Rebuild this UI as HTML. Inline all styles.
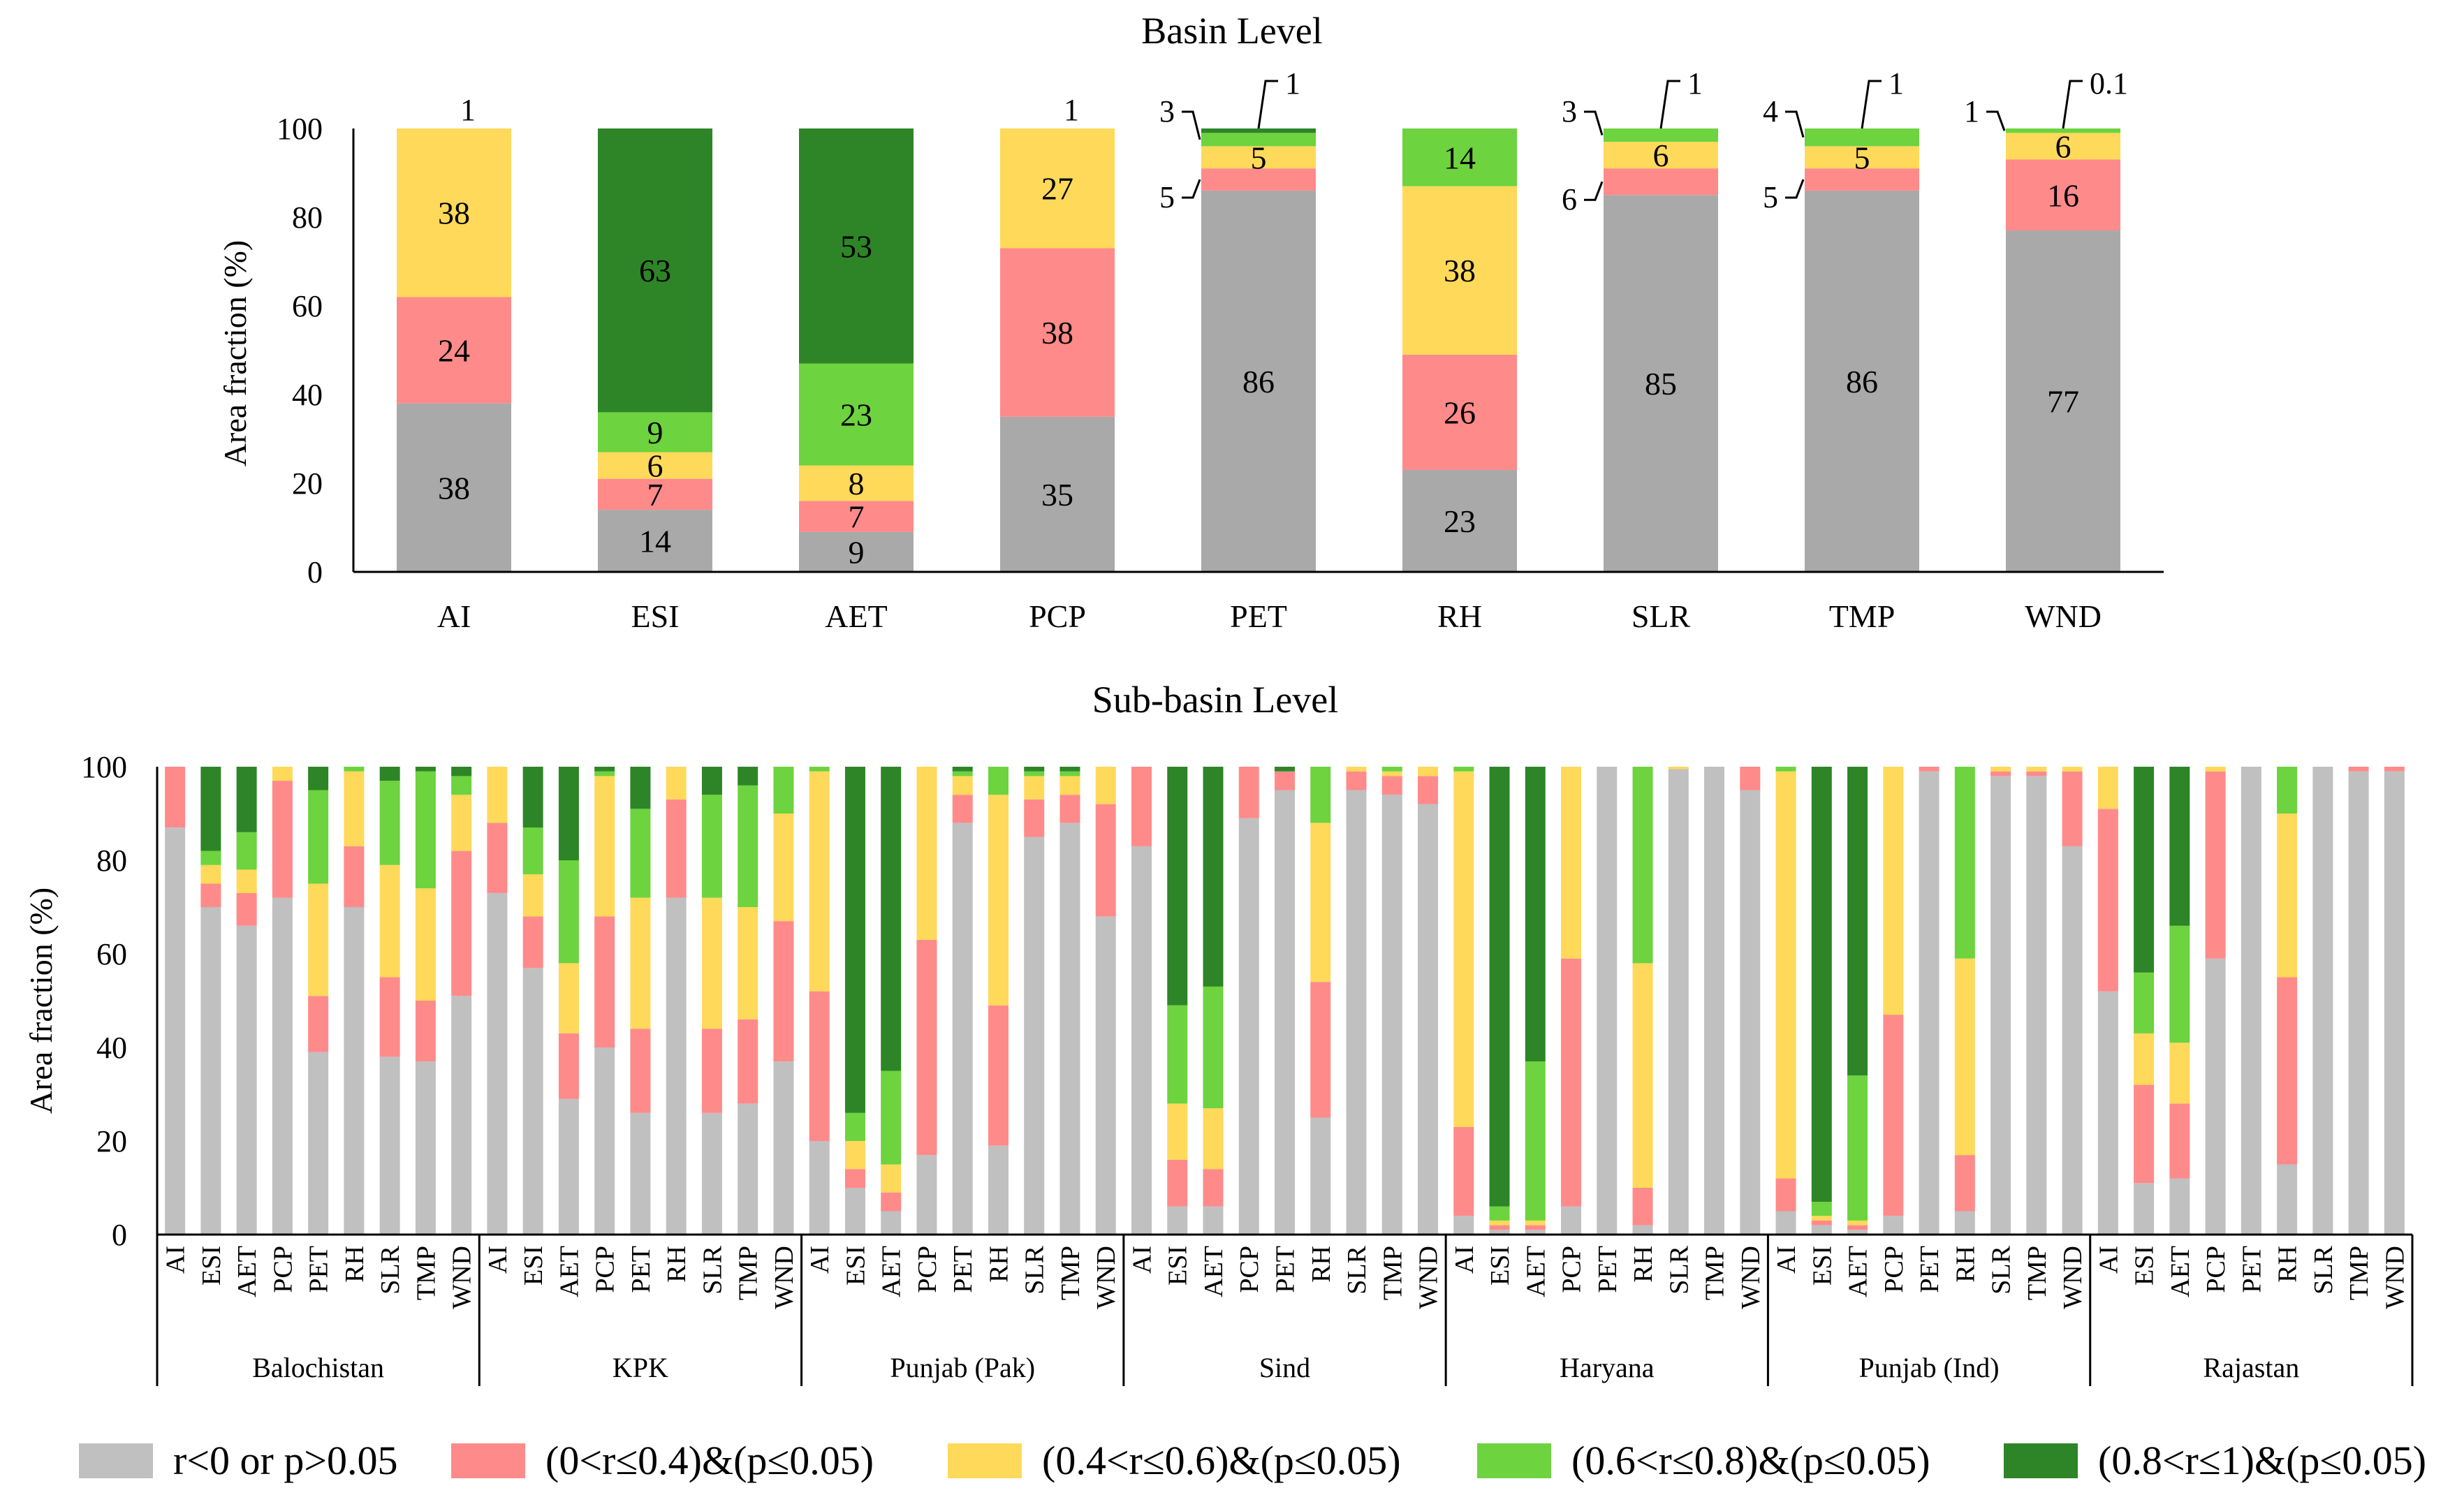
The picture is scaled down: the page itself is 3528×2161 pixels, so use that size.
<!DOCTYPE html>
<html><head><meta charset="utf-8"><style>
html,body{margin:0;padding:0;background:#fff;}
svg{display:block;font-family:"Liberation Serif",serif;}
</style></head><body>
<svg id="chart" width="3528" height="2161" viewBox="0 0 3528 2161" xmlns="http://www.w3.org/2000/svg"></svg>
<script>
const colors=["#a9a9a9","#ff8a8a","#ffd95a","#6dd33e","#2e8527"];
const colorsB=["#c0c0c0","#ff8a8a","#ffd95a","#6dd33e","#2e8527"];
const topCats=["AI","ESI","AET","PCP","PET","RH","SLR","TMP","WND"];
const topGray=[38,14,9,35,86,23,85,86,77];
const topRed=[24,7,7,38,5,26,6,5,16];
const topYellow=[38,6,8,27,5,38,6,5,6];
const topLGreen=[1,9,23,1,3,14,3,4,1];
const topDGreen=[0,64,53,0,1,0,1,1,0.1];
const topLabelModes=[
 ["in","in","in","top",""],
 ["in","in","in","in","in"],
 ["in","in","in","in","in"],
 ["in","in","in","top",""],
 ["in","left","in","left","right"],
 ["in","in","in","in",""],
 ["in","left","in","left","right"],
 ["in","left","in","left","right"],
 ["in","in","in","left","right"]];
const topLabelText=[
 ["38","24","38","1",""],["14","7","6","9","63"],["9","7","8","23","53"],["35","38","27","1",""],
 ["86","5","5","3","1"],["23","26","38","14",""],["85","6","6","3","1"],["86","5","5","4","1"],["77","16","6","1","0.1"]];
const yTicks=[0,20,40,60,80,100];
const groups=["Balochistan","KPK","Punjab (Pak)","Sind","Haryana","Punjab (Ind)","Rajastan"];
const subCats=["AI","ESI","AET","PCP","PET","RH","SLR","TMP","WND"];
const subGray=[87,70,66,72,39,70,38,37,51, 73,57,29,40,26,72,26,28,37, 20,10,5,17,88,19,85,88,68, 83,6,6,89,95,25,95,94,92, 4,1,1,6,100,2,99.5,100,95, 5,2,1,4,99,5,98,98,83, 52,11,12,59,100,15,100,99,99];
const subRed=[13,5,7,25,12,13,17,13,31, 15,11,14,28,18,21,18,18,30, 32,4,4,46,6,30,8,6,24, 17,10,8,11,4,29,4,4,6, 19,1,1,53,0,8,0,0,5, 7,1,1,43,1,12,1,1,16, 39,21,16,40,0,40,0,1,1];
const subYellow=[0,4,5,3,24,16,24,24,12, 12,9,15,30,28,7,28,24,23, 47,6,6,37,4,45,5,4,8, 0,12,13,0,0,34,1,1,2, 76,1,1,41,0,48,0.5,0,0, 87,1,1,53,0,42,1,1,1, 9,11,13,1,0,35,0,0,0];
const subLGreen=[0,3,8,0,20,1,18,25,4, 0,10,22,1,19,0,22,26,10, 1,6,20,0,1,6,1,1,0, 0,21,26,0,0,13,0,1,0, 1,3,34,0,0,42,0,0,0, 1,3,31,0,0,41,0,0.5,0, 0,13,25,0,0,10,0,0,0];
const subDGreen=[0,18,14,0,5,0,3,1,2, 0,13,20,1,9,0,6,4,0, 0,74,65,0,1,0,1,1,0, 0,51,47,0,1,0,0,0,0, 0,94,63,0,0,0,0,0,0, 0,93,66,0,0,0,0,0,0, 0,44,34,0,0,0,0,0,0];
const legendText=["r<0 or p>0.05","(0<r\u22640.4)&(p\u22640.05)","(0.4<r\u22640.6)&(p\u22640.05)","(0.6<r\u22640.8)&(p\u22640.05)","(0.8<r\u22641)&(p\u22640.05)"];

const NS="http://www.w3.org/2000/svg";
const svg=document.getElementById('chart');
function mk(tag,attrs,parent){const e=document.createElementNS(NS,tag);for(const k in attrs)e.setAttribute(k,attrs[k]);(parent||svg).appendChild(e);return e;}

// ---------- Top chart ----------
const T={x0:506,x1:3098,y0:819,y1:184,slot:288,bw:164,first:650};
const ty=v=>T.y0-(v/100)*(T.y0-T.y1);
const tx=i=>T.first+i*T.slot;
let t=mk('text',{x:1764,y:62,'font-size':54,'text-anchor':'middle'});
t.textContent='Basin Level';
t=mk('text',{x:0,y:0,'font-size':46,'text-anchor':'middle',transform:'translate(352,506) rotate(-90)'});
t.textContent='Area fraction  (%)';
yTicks.forEach(v=>{const e=mk('text',{x:462,y:ty(v)+15,'font-size':44,'text-anchor':'end'});
 e.textContent=v;});
const topSeries=[topGray,topRed,topYellow,topLGreen,topDGreen];
topCats.forEach((c,i)=>{
 let cum=0;const cx=tx(i),L=cx-T.bw/2;
 topSeries.forEach((s,k)=>{
  const v=s[i];if(v<=0){return;}
  const a=Math.min(cum,100),b=Math.min(cum+v,100);cum+=v;
  const r=mk('rect',{x:L,y:ty(b),width:T.bw,height:ty(a)-ty(b),fill:colors[k]});
  
  const mode=topLabelModes[i][k],txt=topLabelText[i][k],mid=(ty(a)+ty(b))/2;
  if(mode==='in'){const e=mk('text',{x:cx,y:mid+16,'font-size':46,'text-anchor':'middle'});
   e.textContent=txt;}
  else if(mode==='top'){const e=mk('text',{x:cx+20,y:ty(100)-12,'font-size':44,'text-anchor':'middle'});
   e.textContent=txt;}
  else if(mode==='left'){const up=k>=3;const ly=up?ty(100)-10:mid+40;
   const p=mk('path',{d:`M${L-28} ${ly-14} L${L-12} ${ly-14} L${L-2} ${mid}`,stroke:'#000','stroke-width':3,fill:'none'});
   
   const e=mk('text',{x:L-38,y:ly,'font-size':44,'text-anchor':'end'});
   e.textContent=txt;}
  else if(mode==='right'){const ly=ty(100)-50;
   const p=mk('path',{d:`M${cx} ${ty(100)} L${cx+10} ${ly-18} L${cx+28} ${ly-18}`,stroke:'#000','stroke-width':3,fill:'none'});
   
   const e=mk('text',{x:cx+38,y:ly,'font-size':44,'text-anchor':'start'});
   e.textContent=txt;}
 });
 const e=mk('text',{x:cx,y:898,'font-size':46,'text-anchor':'middle'});
 e.textContent=c;
});
let ax=mk('line',{x1:T.x0,y1:T.y1,x2:T.x0,y2:T.y0,stroke:'#000','stroke-width':3});

ax=mk('line',{x1:T.x0,y1:T.y0,x2:T.x1,y2:T.y0,stroke:'#000','stroke-width':3});


// ---------- Bottom chart ----------
const B={x0:225,x1:3454,y0:1768,y1:1098,bw:29};
const nb=groups.length*subCats.length;const slot=(B.x1-B.x0)/nb;
const by=v=>B.y0-(v/100)*(B.y0-B.y1);
const bx=i=>B.x0+(i+0.5)*slot;
t=mk('text',{x:1740,y:1020,'font-size':54,'text-anchor':'middle'});
t.textContent='Sub-basin Level';
t=mk('text',{x:0,y:0,'font-size':46,'text-anchor':'middle',transform:'translate(74,1433) rotate(-90)'});
t.textContent='Area fraction  (%)';
yTicks.forEach(v=>{const e=mk('text',{x:182,y:by(v)+15,'font-size':44,'text-anchor':'end'});
 e.textContent=v;});
const subSeries=[subGray,subRed,subYellow,subLGreen,subDGreen];
for(let i=0;i<nb;i++){
 let cum=0;const cx=bx(i);
 subSeries.forEach((s,k)=>{const v=s[i];if(v<=0)return;
  const a=Math.min(cum,100),b=Math.min(cum+v,100);cum+=v;
  const r=mk('rect',{x:cx-B.bw/2,y:by(b),width:B.bw,height:by(a)-by(b),fill:colorsB[k]});
  });
 const e=mk('text',{x:0,y:0,'font-size':38,'text-anchor':'end',transform:`translate(${cx+13},1784) rotate(-90)`});
 e.textContent=subCats[i%subCats.length];
}
for(let g=0;g<=groups.length;g++){const x=B.x0+g*subCats.length*slot;
 const l=mk('line',{x1:x,y1:B.y0,x2:x,y2:1985,stroke:'#000','stroke-width':3});
 }
groups.forEach((gname,g)=>{const x=B.x0+(g+0.5)*subCats.length*slot;
 const e=mk('text',{x:x,y:1972,'font-size':40,'text-anchor':'middle'});
 e.textContent=gname;});
ax=mk('line',{x1:B.x0,y1:B.y1,x2:B.x0,y2:B.y0,stroke:'#000','stroke-width':3});

ax=mk('line',{x1:B.x0,y1:B.y0,x2:B.x1,y2:B.y0,stroke:'#000','stroke-width':3});


// ---------- Legend ----------
const legSw=[113,646,1357,2115,2869];
legendText.forEach((s,k)=>{
 const g=mk('g',{});
 const r=mk('rect',{x:legSw[k],y:2067,width:106,height:50,fill:colorsB[k]},g);
 
 const e=mk('text',{x:legSw[k]+135,y:2111,'font-size':58},g);
 e.textContent=s;});
</script>
</body></html>
